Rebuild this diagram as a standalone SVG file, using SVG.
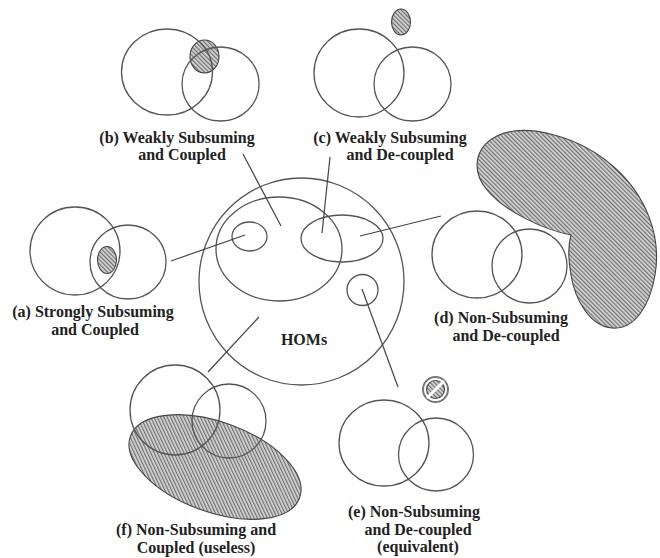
<svg xmlns="http://www.w3.org/2000/svg" width="660" height="558" viewBox="0 0 660 558">
<defs>
<pattern id="hatch" width="3" height="3" patternUnits="userSpaceOnUse" patternTransform="rotate(-45)">
<rect width="3" height="3" fill="#d8d8d8"/>
<line x1="0.7" y1="0" x2="0.7" y2="3" stroke="#555" stroke-width="1"/>
</pattern>
</defs>
<style>
.c{fill:none;stroke:#555;stroke-width:1.3}
.h{fill:url(#hatch);stroke:#444;stroke-width:1.1}
.l{stroke:#444;stroke-width:1.2;fill:none}
text{font-family:"Liberation Serif","Times New Roman",serif;font-weight:bold;font-size:16px;fill:#222;text-anchor:middle}
</style>
<rect width="660" height="558" fill="#fff"/>

<g id="a">
<ellipse class="h" cx="107" cy="260" rx="9.5" ry="13.5"/>
<ellipse class="c" cx="75" cy="251" rx="45" ry="44"/>
<ellipse class="c" cx="128" cy="262" rx="38" ry="37"/>
<text x="93" y="317">(a) Strongly Subsuming</text>
<text x="95" y="335">and Coupled</text>
</g>

<g id="b">
<ellipse class="h" cx="204.5" cy="56.5" rx="14.5" ry="16.5"/>
<ellipse class="c" cx="167" cy="72" rx="45.5" ry="43"/>
<ellipse class="c" cx="220.5" cy="84" rx="38.5" ry="37"/>
<text x="177" y="143">(b) Weakly Subsuming</text>
<text x="182" y="160">and Coupled</text>
</g>

<g id="c">
<ellipse class="h" cx="401" cy="22" rx="9.5" ry="13"/>
<ellipse class="c" cx="359" cy="73" rx="45" ry="44"/>
<ellipse class="c" cx="412.5" cy="84" rx="38.5" ry="37"/>
<text x="390" y="143">(c) Weakly Subsuming</text>
<text x="400" y="160">and De-coupled</text>
</g>

<g id="homs">
<ellipse class="c" cx="301.5" cy="281.5" rx="102.5" ry="103.5"/>
<ellipse class="c" cx="279" cy="249" rx="63" ry="52"/>
<ellipse class="c" cx="249.5" cy="236.5" rx="17.5" ry="14.5"/>
<ellipse class="c" cx="342" cy="238.5" rx="41" ry="23.5"/>
<circle class="c" cx="362.5" cy="290" r="15.5"/>
<text x="304" y="345">HOMs</text>
</g>

<g id="d">
<path class="h" d="M571,235 C545,230 505,212 487,190 C472,172 473,148 497,136 C525,122 580,136 615,168 C645,195 662,235 655,275 C650,305 635,330 612,328 C590,326 575,300 571,275 C568,258 568,245 571,235 Z"/>
<ellipse class="c" cx="477" cy="254.5" rx="45" ry="43.5"/>
<ellipse class="c" cx="529.5" cy="266" rx="37.5" ry="37"/>
<text x="501" y="323">(d) Non-Subsuming</text>
<text x="506" y="341">and De-coupled</text>
</g>

<g id="e">
<circle cx="435.5" cy="389.5" r="12.5" fill="#fff" stroke="#777" stroke-width="2"/>
<circle cx="435.5" cy="389.5" r="9" class="h"/>
<line x1="427" y1="398" x2="444" y2="381" stroke="#fff" stroke-width="3"/>
<ellipse class="c" cx="384" cy="443" rx="45" ry="43"/>
<ellipse class="c" cx="436" cy="454.5" rx="37.5" ry="36.5"/>
<text x="414" y="517">(e) Non-Subsuming</text>
<text x="418" y="535">and De-coupled</text>
<text x="418" y="552">(equivalent)</text>
</g>

<g id="f">
<ellipse class="h" cx="215" cy="467" rx="90" ry="45" transform="rotate(20 215 467)"/>
<circle class="c" cx="175" cy="410" r="45"/>
<circle class="c" cx="229" cy="421" r="37"/>
<text x="196" y="535">(f) Non-Subsuming and</text>
<text x="196" y="553">Coupled (useless)</text>
</g>

<g id="connectors">
<line class="l" x1="171" y1="261" x2="245" y2="235"/>
<line class="l" x1="243" y1="154" x2="281" y2="226"/>
<line class="l" x1="330" y1="157" x2="322" y2="233"/>
<line class="l" x1="441" y1="216" x2="360" y2="236"/>
<line class="l" x1="259" y1="317" x2="208" y2="372"/>
<line class="l" x1="362" y1="289" x2="398" y2="387"/>
</g>
</svg>
